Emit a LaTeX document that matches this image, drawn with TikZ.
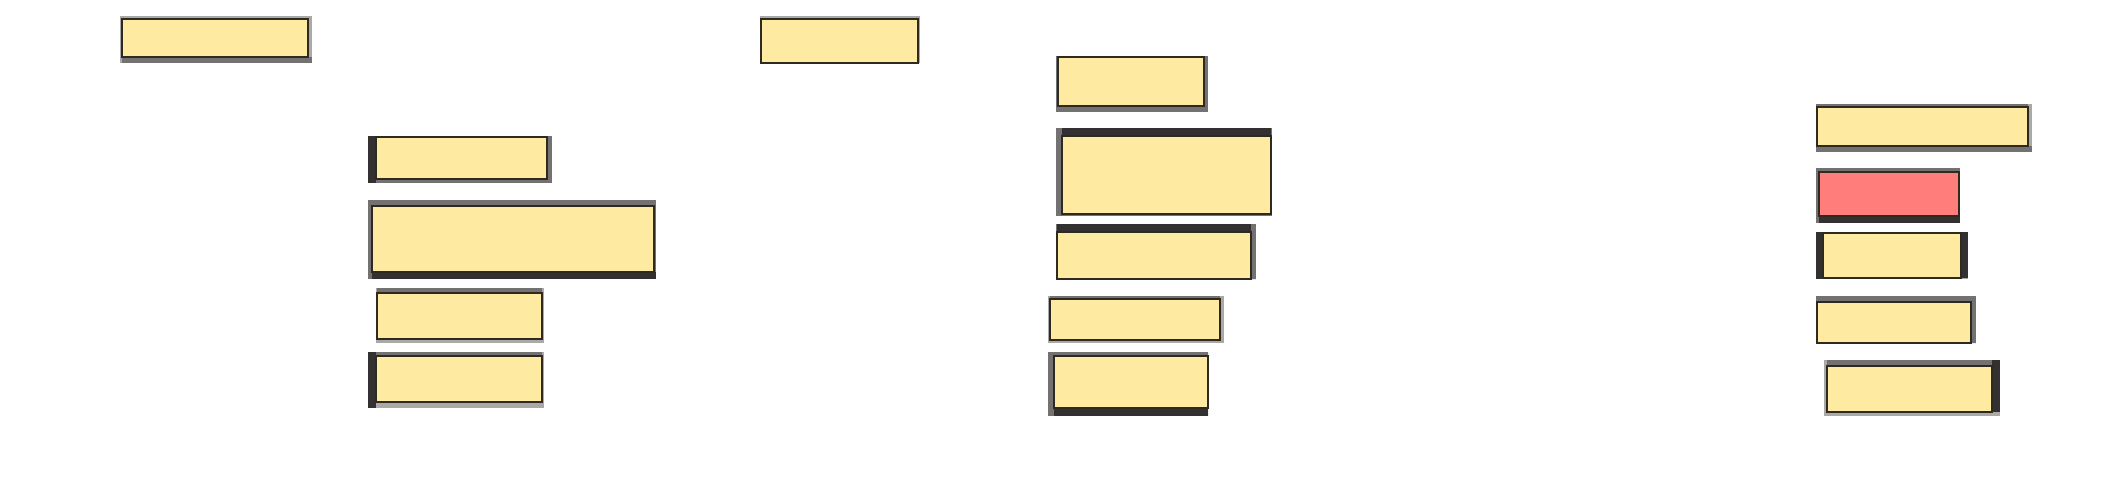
\documentclass[tikz,border=0pt]{standalone}
\usetikzlibrary{fit}

\definecolor{cellyellow}{HTML}{FEEAA1}
\definecolor{cellred}{HTML}{FF7E7B}
\definecolor{celledge}{HTML}{2E2A20}
\definecolor{bevdark}{HTML}{323030}
\definecolor{bevmid}{HTML}{737171}
\definecolor{bevlight}{HTML}{ABA9A7}

\tikzset{
  cell/.style={draw=celledge, fill=cellyellow, line width=0.6pt, inner sep=0pt},
  alarm/.style={cell, fill=cellred}
}

% frame round a cell: name, outer corners, inner corners, top/right/bottom/left colour
\newcommand{\bevframe}[9]{%
  \coordinate (#1-o1) at (#2); \coordinate (#1-o2) at (#3);
  \coordinate (#1-i1) at (#4); \coordinate (#1-i2) at (#5);
  \fill[#6] (#1-o1) rectangle (#1-o2 |- #1-i1);
  \fill[#7] (#1-i2 |- #1-o1) rectangle (#1-o2);
  \fill[#8] (#1-o1 |- #1-i2) rectangle (#1-o2);
  \fill[#9] (#1-o1) rectangle (#1-i1 |- #1-o2);
}

\begin{document}
\begin{tikzpicture}[x=0.5pt,y=-0.5pt]

      \path[use as bounding box, fill=white] (0,0) rectangle (2118,488);

      % frames
      \bevframe{b1}{120,16}{312,63}{122,19}{308,57}{bevlight}{bevlight}{bevmid}{bevlight}
      \bevframe{b2}{368,136}{552,183}{376,137}{547,179}{bevmid}{bevmid}{bevmid}{bevdark}
      \bevframe{b3}{368,200}{656,279}{372,206}{654,272}{bevmid}{bevmid}{bevdark}{bevmid}
      \bevframe{b4}{376,288}{544,343}{377,293}{542,339}{bevmid}{bevlight}{bevlight}{bevlight}
      \bevframe{b5}{368,352}{544,408}{376,356}{542,402}{bevmid}{bevlight}{bevlight}{bevdark}
      \bevframe{b6}{760,16}{920,63}{761,19}{918,63}{bevlight}{bevlight}{bevlight}{bevlight}
      \bevframe{b7}{1056,56}{1208,112}{1058,57}{1204,106}{bevdark}{bevmid}{bevmid}{bevmid}
      \bevframe{b8}{1056,128}{1272,216}{1062,136}{1271,214}{bevdark}{bevmid}{bevmid}{bevmid}
      \bevframe{b9}{1056,224}{1256,279}{1057,232}{1251,279}{bevdark}{bevmid}{bevdark}{bevmid}
      \bevframe{b10}{1048,296}{1224,343}{1050,299}{1220,340}{bevmid}{bevlight}{bevlight}{bevlight}
      \bevframe{b11}{1048,352}{1208,416}{1054,356}{1208,408}{bevmid}{bevmid}{bevdark}{bevmid}
      \bevframe{b12}{1816,104}{2032,152}{1817,107}{2028,146}{bevmid}{bevlight}{bevmid}{bevmid}
      \bevframe{b13}{1816,168}{1960,223}{1819,172}{1959,216}{bevmid}{bevmid}{bevdark}{bevmid}
      \bevframe{b14}{1816,232}{1968,279}{1823,233}{1961,278}{bevdark}{bevdark}{bevlight}{bevdark}
      \bevframe{b15}{1816,296}{1976,343}{1817,302}{1971,343}{bevmid}{bevmid}{bevmid}{bevmid}
      \bevframe{b16}{1824,360}{2000,416}{1827,366}{1992,412}{bevmid}{bevdark}{bevlight}{bevlight}

      % cells
      \begin{scope}[every node/.style={cell}]
        \node[fit=(b1-i1)(b1-i2)]   (b1)  {};
        \node[fit=(b2-i1)(b2-i2)]   (b2)  {};
        \node[fit=(b3-i1)(b3-i2)]   (b3)  {};
        \node[fit=(b4-i1)(b4-i2)]   (b4)  {};
        \node[fit=(b5-i1)(b5-i2)]   (b5)  {};
        \node[fit=(b6-i1)(b6-i2)]   (b6)  {};
        \node[fit=(b7-i1)(b7-i2)]   (b7)  {};
        \node[fit=(b8-i1)(b8-i2)]   (b8)  {};
        \node[fit=(b9-i1)(b9-i2)]   (b9)  {};
        \node[fit=(b10-i1)(b10-i2)] (b10) {};
        \node[fit=(b11-i1)(b11-i2)] (b11) {};
        \node[fit=(b12-i1)(b12-i2)] (b12) {};
        \node[alarm, fit=(b13-i1)(b13-i2)] (b13) {};
        \node[fit=(b14-i1)(b14-i2)] (b14) {};
        \node[fit=(b15-i1)(b15-i2)] (b15) {};
        \node[fit=(b16-i1)(b16-i2)] (b16) {};
      \end{scope}

\end{tikzpicture}
\end{document}
